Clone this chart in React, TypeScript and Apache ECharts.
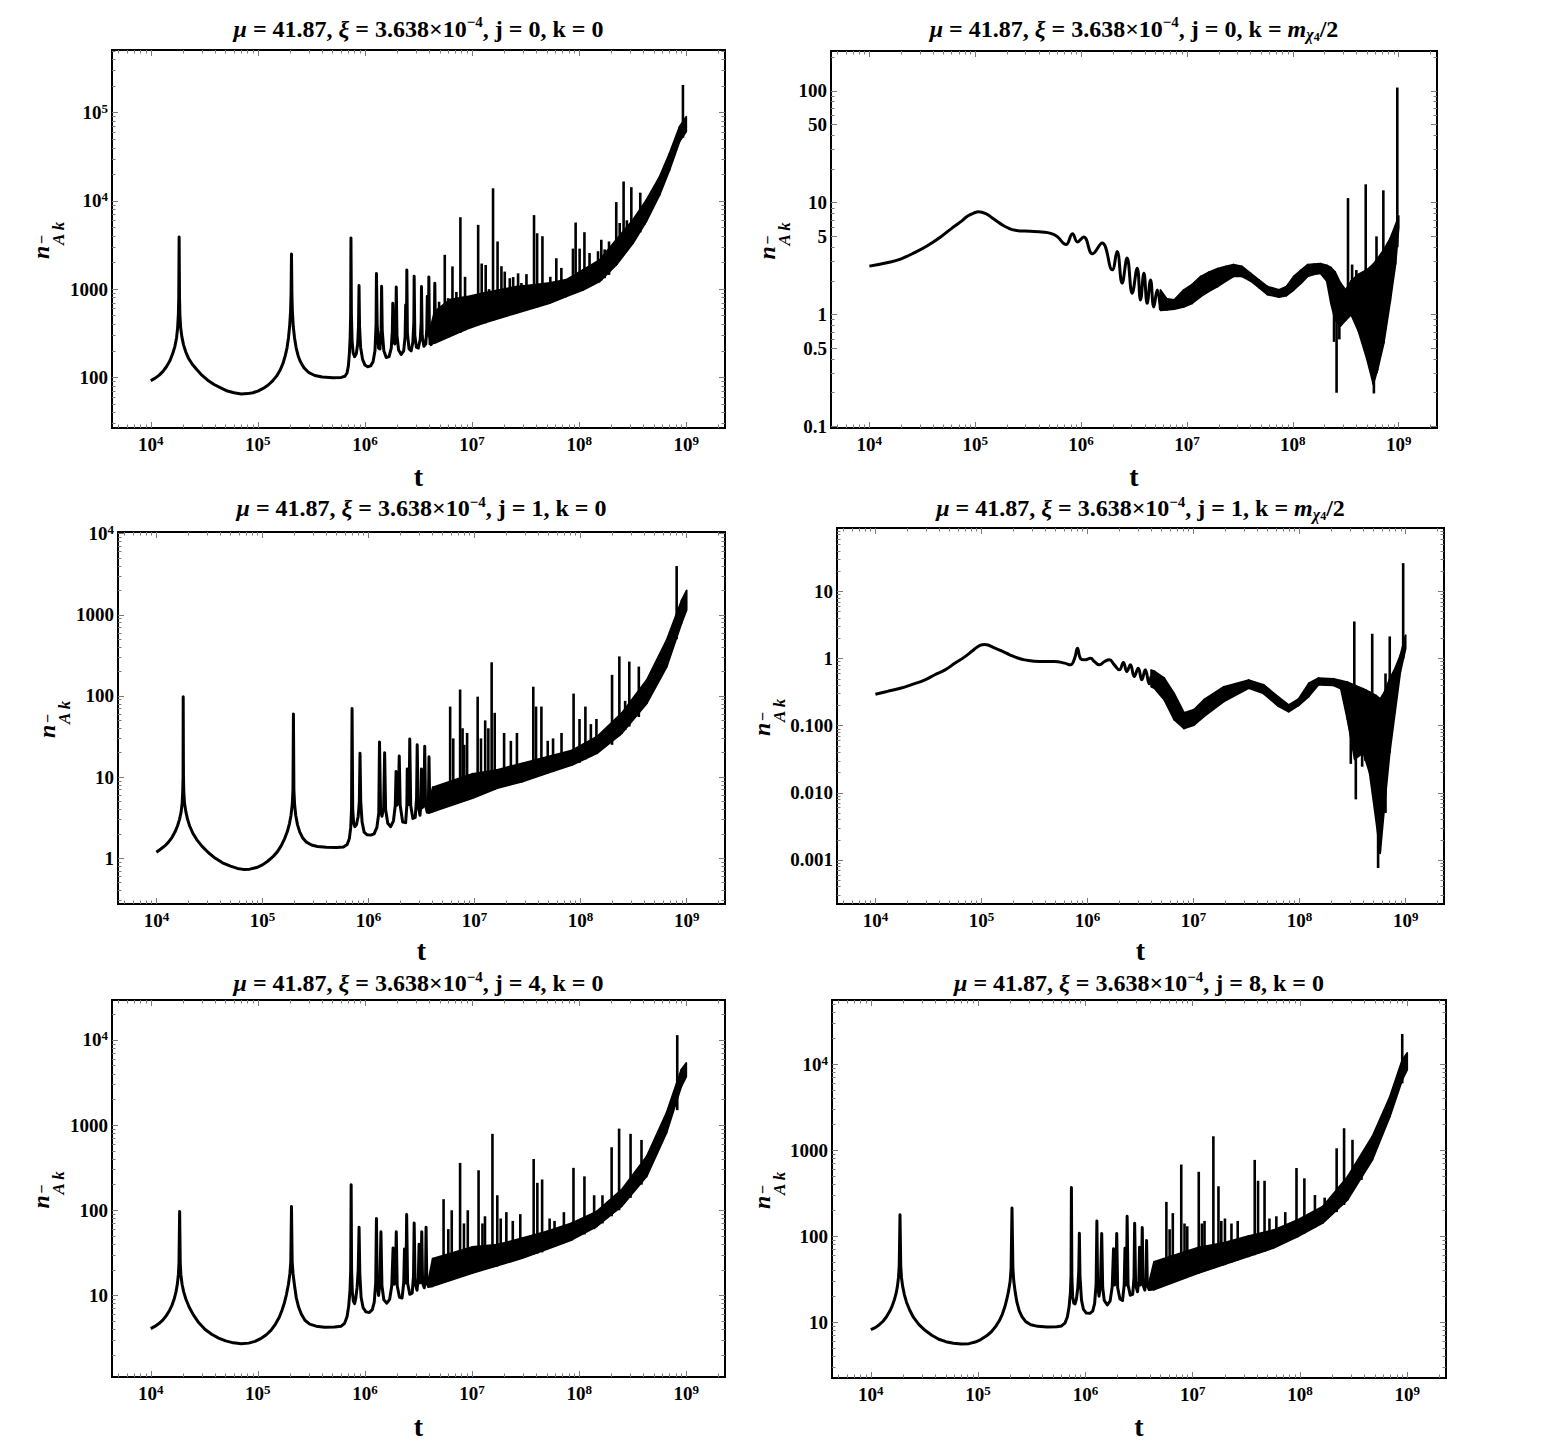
import React, { useEffect, useRef } from "react";
import * as echarts from "echarts";

const FONT = "Liberation Serif";

// ---------- shared x axis ----------
const xTicks = [1e4, 1e5, 1e6, 1e7, 1e8, 1e9];
const xTickLabels = ["10^4", "10^5", "10^6", "10^7", "10^8", "10^9"];
const xRange = [4345, 2.3e9];

const titles = [
  "{i|μ} = 41.87, {i|ξ} = 3.638×10{p|−4}, j = 0, k = 0",
  "{i|μ} = 41.87, {i|ξ} = 3.638×10{p|−4}, j = 0, k = {i|m}{c|χ}{d|4}/2",
  "{i|μ} = 41.87, {i|ξ} = 3.638×10{p|−4}, j = 1, k = 0",
  "{i|μ} = 41.87, {i|ξ} = 3.638×10{p|−4}, j = 1, k = {i|m}{c|χ}{d|4}/2",
  "{i|μ} = 41.87, {i|ξ} = 3.638×10{p|−4}, j = 4, k = 0",
  "{i|μ} = 41.87, {i|ξ} = 3.638×10{p|−4}, j = 8, k = 0",
];

// ---------- panel 1 : j = 0, k = 0 ----------
const p1YRange = [26.7, 5.13e5];
const p1YTicks = [100, 1000, 1e4, 1e5];
const p1YTickLabels = ["100", "1000", "10^4", "10^5"];
const p1Line = [
  [1.0e4, 92], [1.1e4, 98], [1.2e4, 106], [1.3e4, 117], [1.4e4, 132], [1.5e4, 152], [1.6e4, 185], [1.68e4, 225],
  [1.74e4, 280], [1.78e4, 360], [1.81e4, 520], [1.825e4, 800], [1.84e4, 3900], [1.855e4, 800], [1.87e4, 520],
  [1.9e4, 370], [1.95e4, 290], [2.02e4, 235], [2.12e4, 195], [2.25e4, 165], [2.45e4, 140], [2.7e4, 122], [3.0e4, 106],
  [3.4e4, 93], [3.9e4, 83], [4.5e4, 76], [5.2e4, 70], [6.0e4, 67], [7.0e4, 65], [8.0e4, 65.5], [9.0e4, 67], [1.0e5, 70],
  [1.12e5, 75], [1.25e5, 82], [1.38e5, 92], [1.5e5, 104], [1.62e5, 122], [1.72e5, 145], [1.8e5, 175], [1.87e5, 215],
  [1.93e5, 280], [1.98e5, 380], [2.02e5, 560], [2.04e5, 850], [2.06e5, 2500], [2.08e5, 850], [2.1e5, 560], [2.14e5, 380],
  [2.2e5, 280], [2.28e5, 215], [2.38e5, 175], [2.5e5, 150], [2.7e5, 128], [3.0e5, 113], [3.4e5, 105], [4.0e5, 101],
  [5.0e5, 99], [6.0e5, 100], [6.5e5, 103], [6.8e5, 112], [7.0e5, 135], [7.15e5, 185], [7.28e5, 290], [7.35e5, 520],
  [7.4e5, 3800], [7.47e5, 520], [7.58e5, 260], [7.75e5, 190], [8.0e5, 172], [8.3e5, 185], [8.55e5, 240], [8.7e5, 380],
  [8.8e5, 1100], [8.9e5, 380], [9.1e5, 220], [9.5e5, 160], [1.0e6, 138], [1.06e6, 132], [1.13e6, 135], [1.19e6, 150],
  [1.24e6, 200], [1.27e6, 400], [1.28e6, 1500], [1.3e6, 400], [1.34e6, 215], [1.38e6, 210], [1.415e6, 350], [1.43e6, 1080],
  [1.45e6, 340], [1.5e6, 200], [1.58e6, 168], [1.68e6, 172], [1.76e6, 215], [1.8e6, 330], [1.82e6, 690], [1.85e6, 260],
  [1.9e6, 240], [1.94e6, 360], [1.96e6, 1060], [1.99e6, 300], [2.06e6, 205], [2.18e6, 182], [2.3e6, 200], [2.37e6, 290],
  [2.4e6, 660], [2.42e6, 300], [2.445e6, 420], [2.46e6, 1650], [2.49e6, 320], [2.58e6, 210], [2.7e6, 200], [2.8e6, 250],
  [2.86e6, 420], [2.88e6, 1400], [2.92e6, 300], [3.02e6, 220], [3.15e6, 215], [3.28e6, 270], [3.35e6, 420], [3.37e6, 1070],
  [3.42e6, 300], [3.55e6, 225], [3.7e6, 240], [3.78e6, 360], [3.82e6, 830], [3.86e6, 300], [3.92e6, 420], [3.95e6, 1370],
  [4.0e6, 300], [4.15e6, 235], [4.35e6, 280], [4.45e6, 500], [4.49e6, 1170], [4.55e6, 300],
];
const p1Band = [
  [4.0e6, 238, 330], [4.47e6, 245, 560], [6.2e6, 291, 760], [8.87e6, 352, 820], [1.27e7, 412, 900], [1.81e7, 470, 980],
  [2.59e7, 535, 1070], [3.71e7, 610, 1120], [5.31e7, 695, 1175], [7.59e7, 826, 1280], [1.09e8, 982, 1660],
  [1.55e8, 1220, 2140], [2.22e8, 1880, 3630], [3.18e8, 3310, 6100], [4.23e8, 5830, 10200], [5.64e8, 11700, 18800],
  [6.98e8, 22400, 34700], [8.65e8, 47000, 69200], [1.0e9, 61000, 90000],
];
const p1Spikes = [
  [4.92e6, 260, 720], [5.56e6, 280, 2450], [5.97e6, 290, 790], [6.56e6, 300, 1810], [7.14e6, 310, 930], [7.78e6, 320, 6530],
  [8.6e6, 340, 1380], [1.14e7, 390, 5350], [1.23e7, 400, 1950], [1.34e7, 410, 1880], [1.44e7, 430, 1000], [1.57e7, 440, 13900],
  [1.73e7, 460, 3470], [1.88e7, 480, 1820], [2.02e7, 490, 1580], [2.25e7, 510, 1330], [2.42e7, 520, 1370], [2.69e7, 540, 1510],
  [2.89e7, 560, 1175], [3.22e7, 580, 1480], [3.79e7, 610, 6900], [4.05e7, 620, 4300], [4.54e7, 650, 3980], [4.94e7, 670, 1120],
  [5.38e7, 700, 1380], [6.12e7, 740, 2240], [6.82e7, 780, 1740], [8.15e7, 860, 1320], [8.75e7, 900, 2880], [9.27e7, 920, 5690],
  [1.01e8, 960, 2880], [1.12e8, 1010, 4420], [1.25e8, 1080, 2570], [1.5e8, 1200, 2690], [1.61e8, 1260, 3630],
  [1.73e8, 1330, 2820], [1.9e8, 1450, 3470], [2.22e8, 1880, 9700], [2.39e8, 2200, 5620], [2.6e8, 2600, 16600], [2.79e8, 2900, 6030],
  [3.07e8, 3300, 14300], [3.37e8, 3700, 5130], [3.72e8, 4400, 12400], [4.08e8, 5400, 7940], [9.31e8, 52000, 206000],
];

// ---------- panel 2 : j = 0, k = m/2 ----------
const p2YRange = [0.0968, 227];
const p2YTicks = [0.1, 0.5, 1, 5, 10, 50, 100];
const p2YTickLabels = ["0.1", "0.5", "1", "5", "10", "50", "100"];
const p2Line = [
  [1e4, 2.71], [1.58e4, 2.95], [2.0e4, 3.15], [2.74e4, 3.62], [3.5e4, 4.1], [4.71e4, 4.94], [6.0e4, 5.9], [7.26e4, 6.73],
  [8.5e4, 7.6], [1e5, 8.17], [1.07e5, 8.3], [1.26e5, 8.0], [1.45e5, 7.3], [1.73e5, 6.5], [2.0e5, 6.0], [2.39e5, 5.66],
  [3.31e5, 5.55], [4.0e5, 5.5], [4.83e5, 5.4], [5.5e5, 5.2], [6.0e5, 4.94], [7.21e5, 4.22], [8.3e5, 5.29], [9.25e5, 4.46],
  [1.06e6, 4.94], [1.28e6, 3.5], [1.58e6, 4.37], [1.97e6, 2.51], [2.19e6, 3.67], [2.44e6, 1.91], [2.72e6, 3.2],
  [3.04e6, 1.55], [3.39e6, 2.6], [3.64e6, 1.35], [3.92e6, 2.34], [4.21e6, 1.26], [4.53e6, 2.04], [4.86e6, 1.17],
  [5.24e6, 1.66], [5.62e6, 1.1],
];
const p2Band = [
  [5.62e6, 1.09, 1.66], [6.46e6, 1.1, 1.38], [7.59e6, 1.12, 1.35], [9.33e6, 1.17, 1.66], [1.12e7, 1.26, 1.86],
  [1.35e7, 1.45, 2.19], [1.62e7, 1.62, 2.4], [1.95e7, 1.78, 2.57], [2.34e7, 2.0, 2.69], [2.75e7, 2.19, 2.79],
  [3.31e7, 2.19, 2.69], [3.98e7, 2.0, 2.34], [4.79e7, 1.74, 2.04], [5.75e7, 1.51, 1.78], [7.41e7, 1.43, 1.66],
  [8.71e7, 1.48, 1.78], [1.02e8, 1.66, 2.19], [1.2e8, 1.91, 2.51], [1.38e8, 2.19, 2.79], [1.58e8, 2.29, 2.82],
  [1.82e8, 2.34, 2.85], [2.09e8, 2.0, 2.75], [2.29e8, 1.26, 2.63], [2.51e8, 0.89, 2.4], [2.82e8, 0.79, 1.91],
  [3.16e8, 0.89, 1.66], [3.55e8, 1.0, 2.0], [4.17e8, 0.71, 2.29], [5.01e8, 0.4, 2.51], [5.75e8, 0.24, 2.82],
  [6.31e8, 0.32, 3.16], [7.24e8, 0.56, 3.8], [8.32e8, 1.32, 4.79], [9.33e8, 2.82, 6.31], [1e9, 6.0, 7.6],
];
const p2Spikes = [
  [2.45e8, 0.57, 2.0], [2.59e8, 0.2, 1.5], [2.75e8, 0.6, 1.8], [3.32e8, 1.0, 11.0], [3.63e8, 1.0, 2.8], [3.98e8, 0.9, 2.5],
  [4.88e8, 0.6, 14.6], [5.83e8, 0.197, 1.5], [6.17e8, 0.3, 5.0], [6.61e8, 0.4, 3.0], [7.16e8, 0.7, 12.9], [9.7e8, 4.0, 107],
];

// ---------- panel 3 : j = 1, k = 0 ----------
const p3YRange = [0.2735, 10470];
const p3YTicks = [1, 10, 100, 1000, 1e4];
const p3YTickLabels = ["1", "10", "100", "1000", "10^4"];
const p3Line = [
  [1e4, 1.19], [1.1e4, 1.3], [1.2e4, 1.42], [1.3e4, 1.58], [1.4e4, 1.8], [1.5e4, 2.12], [1.58e4, 2.5], [1.65e4, 3.0],
  [1.71e4, 3.7], [1.75e4, 4.8], [1.77e4, 6.5], [1.785e4, 10], [1.79e4, 98], [1.8e4, 10], [1.815e4, 6.5], [1.84e4, 4.8],
  [1.9e4, 3.7], [1.97e4, 3.0], [2.06e4, 2.5], [2.2e4, 2.05], [2.4e4, 1.7], [2.7e4, 1.4], [3.1e4, 1.17], [3.6e4, 1.0],
  [4.2e4, 0.88], [5.0e4, 0.8], [5.8e4, 0.75], [6.6e4, 0.73], [7.6e4, 0.735], [8.8e4, 0.77], [1.0e5, 0.83], [1.12e5, 0.92],
  [1.25e5, 1.04], [1.38e5, 1.2], [1.5e5, 1.42], [1.62e5, 1.75], [1.72e5, 2.15], [1.8e5, 2.7], [1.86e5, 3.4], [1.91e5, 4.6],
  [1.94e5, 7.0], [1.96e5, 60], [1.98e5, 7.0], [2.01e5, 4.6], [2.06e5, 3.4], [2.14e5, 2.6], [2.25e5, 2.1], [2.4e5, 1.78],
  [2.6e5, 1.58], [2.9e5, 1.46], [3.3e5, 1.4], [4.0e5, 1.37], [5.0e5, 1.36], [5.8e5, 1.38], [6.3e5, 1.48], [6.6e5, 1.75],
  [6.8e5, 2.4], [6.92e5, 4.0], [7.0e5, 70], [7.1e5, 4.0], [7.25e5, 2.7], [7.45e5, 2.45], [7.7e5, 2.6], [8.0e5, 3.3],
  [8.2e5, 5.0], [8.32e5, 19.7], [8.45e5, 5.0], [8.7e5, 2.8], [9.1e5, 2.1], [9.7e5, 1.95], [1.05e6, 1.93], [1.13e6, 2.0],
  [1.2e6, 2.4], [1.25e6, 3.6], [1.27e6, 27], [1.3e6, 4.0], [1.34e6, 3.3], [1.39e6, 4.2], [1.42e6, 20], [1.45e6, 4.0],
  [1.52e6, 2.7], [1.62e6, 2.45], [1.72e6, 2.9], [1.79e6, 4.5], [1.82e6, 11.7], [1.85e6, 4.5], [1.91e6, 5.0], [1.95e6, 18.2],
  [1.99e6, 4.5], [2.1e6, 2.8], [2.24e6, 2.75], [2.3e6, 4.5], [2.32e6, 12.6], [2.37e6, 4.6], [2.42e6, 6.0], [2.45e6, 29.5],
  [2.5e6, 4.5], [2.62e6, 3.1], [2.76e6, 3.2], [2.84e6, 5.5], [2.88e6, 25], [2.94e6, 4.5], [3.06e6, 3.4], [3.13e6, 5.0],
  [3.16e6, 12.6], [3.21e6, 4.2], [3.33e6, 4.5], [3.39e6, 24], [3.45e6, 4.5], [3.58e6, 3.7], [3.68e6, 5.5], [3.72e6, 17.8],
  [3.78e6, 4.5], [3.9e6, 3.8], [4.04e6, 3.9],
];
const p3Band = [
  [3.7e6, 3.6, 4.6], [4.04e6, 3.76, 7.5], [9.57e6, 5.5, 11], [1.64e7, 7.3, 12.3], [2.82e7, 8.8, 14.8], [4.84e7, 11.2, 17.8],
  [8.32e7, 14.1, 21.4], [1.43e8, 19.7, 31.6], [2.45e8, 34.7, 61.7], [4.21e8, 81, 158], [6.49e8, 229, 490],
  [8.97e8, 794, 1510], [1e9, 1150, 2000],
];
const p3Spikes = [
  [5.89e6, 4.5, 74], [6.3e6, 4.6, 30], [7.31e6, 5.0, 120], [7.71e6, 5.0, 40], [8.0e6, 5.1, 25], [8.51e6, 5.2, 35],
  [1.07e7, 5.8, 98], [1.15e7, 6.0, 30], [1.26e7, 6.4, 50], [1.35e7, 6.6, 40], [1.45e7, 6.8, 260], [1.55e7, 7.0, 62],
  [1.9e7, 7.6, 35], [2.2e7, 8.0, 28], [2.51e7, 8.5, 35], [3.58e7, 9.8, 130], [3.8e7, 10, 74], [4.27e7, 10.5, 74],
  [4.9e7, 11.2, 28], [5.5e7, 11.8, 30], [6.61e7, 12.8, 35], [8.59e7, 14.3, 107], [9.77e7, 15, 52], [1.11e8, 16.5, 74],
  [1.25e8, 18, 45], [1.41e8, 19.5, 52], [1.98e8, 25, 182], [2.32e8, 32, 307], [2.63e8, 38, 87], [2.88e8, 42, 265],
  [3.54e8, 55, 230], [8.05e8, 500, 3980],
];

// ---------- panel 4 : j = 1, k = m/2 ----------
const p4YRange = [2.21e-4, 88.1];
const p4YTicks = [0.001, 0.01, 0.1, 1, 10];
const p4YTickLabels = ["0.001", "0.010", "0.100", "1", "10"];
const p4Line = [
  [1e4, 0.295], [1.3e4, 0.325], [1.72e4, 0.362], [2.2e4, 0.41], [2.94e4, 0.482], [3.6e4, 0.57], [4.54e4, 0.679],
  [5.6e4, 0.85], [7.0e4, 1.07], [8.3e4, 1.32], [9.68e4, 1.57], [1.08e5, 1.62], [1.34e5, 1.43], [1.6e5, 1.27],
  [1.85e5, 1.14], [2.2e5, 1.02], [2.56e5, 0.957], [3.54e5, 0.905], [4.9e5, 0.905], [6.08e5, 0.855], [6.92e5, 0.807],
  [7.55e5, 1.0], [8.05e5, 1.43], [8.59e5, 1.0], [9.37e5, 0.957], [1.07e6, 1.01], [1.16e6, 0.905], [1.3e6, 0.807],
  [1.45e6, 0.905], [1.61e6, 0.957], [1.79e6, 0.807], [2.0e6, 0.679], [2.18e6, 0.875], [2.35e6, 0.641], [2.54e6, 0.807],
  [2.76e6, 0.541], [3.01e6, 0.719], [3.25e6, 0.482], [3.51e6, 0.679], [3.82e6, 0.421], [3.98e6, 0.55],
];
const p4Band = [
  [3.98e6, 0.38, 0.676], [4.27e6, 0.363, 0.646], [5.28e6, 0.245, 0.513], [6.56e6, 0.123, 0.302], [8.15e6, 0.091, 0.155],
  [1.01e7, 0.102, 0.174], [1.26e7, 0.138, 0.245], [1.93e7, 0.229, 0.38], [3.31e7, 0.363, 0.479], [4.57e7, 0.302, 0.407],
  [6.31e7, 0.195, 0.269], [7.89e7, 0.162, 0.204], [9.77e7, 0.2, 0.25], [1.22e8, 0.272, 0.427], [1.51e8, 0.407, 0.513],
  [2.09e8, 0.398, 0.5], [2.45e8, 0.355, 0.468], [2.82e8, 0.126, 0.447], [3.31e8, 0.0316, 0.398], [3.98e8, 0.0398, 0.355],
  [4.57e8, 0.02, 0.316], [5.25e8, 0.004, 0.282], [5.75e8, 0.00126, 0.251], [6.31e8, 0.0063, 0.316], [7.08e8, 0.0398, 0.5],
  [7.94e8, 0.158, 0.708], [8.91e8, 0.63, 1.12], [1e9, 1.41, 2.24],
];
const p4Spikes = [
  [3.04e8, 0.027, 0.4], [3.28e8, 0.05, 3.57], [3.39e8, 0.008, 0.3], [3.89e8, 0.0245, 0.35], [4.17e8, 0.03, 0.35],
  [4.84e8, 0.03, 2.34], [5.5e8, 0.00076, 0.2], [6.46e8, 0.005, 0.6], [7.08e8, 0.04, 2.14], [9.48e8, 1.0, 26.4],
];

// ---------- panel 5 : j = 4, k = 0 ----------
const p5YRange = [1.1, 29500];
const p5YTicks = [10, 100, 1000, 1e4];
const p5YTickLabels = ["10", "100", "1000", "10^4"];
const p5Line = [
  [1e4, 4.07], [1.1e4, 4.35], [1.2e4, 4.7], [1.3e4, 5.15], [1.4e4, 5.8], [1.5e4, 6.7], [1.58e4, 7.7], [1.66e4, 9.2],
  [1.72e4, 11], [1.77e4, 13.5], [1.81e4, 17.5], [1.835e4, 24], [1.86e4, 97], [1.885e4, 24], [1.91e4, 17.5], [1.96e4, 13.5],
  [2.03e4, 11], [2.13e4, 9.0], [2.28e4, 7.3], [2.5e4, 5.9], [2.8e4, 4.8], [3.2e4, 4.0], [3.7e4, 3.5], [4.3e4, 3.15],
  [5.0e4, 2.92], [5.9e4, 2.77], [7.0e4, 2.71], [8.2e4, 2.75], [9.4e4, 2.88], [1.06e5, 3.1], [1.2e5, 3.45], [1.33e5, 3.9],
  [1.46e5, 4.6], [1.58e5, 5.5], [1.68e5, 6.7], [1.77e5, 8.2], [1.85e5, 10.3], [1.93e5, 13.5], [1.99e5, 18], [2.03e5, 25],
  [2.06e5, 111], [2.09e5, 25], [2.13e5, 18], [2.2e5, 13], [2.28e5, 9.5], [2.4e5, 7.3], [2.55e5, 6.0], [2.75e5, 5.1],
  [3.05e5, 4.6], [3.5e5, 4.35], [4.2e5, 4.22], [5.2e5, 4.25], [6.0e5, 4.35], [6.45e5, 4.7], [6.8e5, 5.6], [7.05e5, 7.5],
  [7.25e5, 11.5], [7.36e5, 20], [7.43e5, 200], [7.5e5, 20], [7.62e5, 11], [7.8e5, 8.5], [8.0e5, 8.0], [8.2e5, 9.2],
  [8.45e5, 12.5], [8.65e5, 20], [8.81e5, 63], [8.95e5, 18], [9.2e5, 9.5], [9.6e5, 7.2], [1.02e6, 6.4], [1.1e6, 6.3],
  [1.17e6, 6.8], [1.22e6, 8.3], [1.26e6, 14], [1.28e6, 80], [1.3e6, 14], [1.34e6, 10], [1.38e6, 14], [1.41e6, 56],
  [1.44e6, 13], [1.5e6, 8.9], [1.6e6, 8.1], [1.7e6, 9.0], [1.78e6, 13], [1.83e6, 36], [1.87e6, 13.5], [1.92e6, 15],
  [1.96e6, 56], [2.0e6, 13], [2.1e6, 9.5], [2.22e6, 9.3], [2.3e6, 14], [2.34e6, 35], [2.39e6, 14], [2.42e6, 18],
  [2.45e6, 89], [2.5e6, 14], [2.62e6, 10.3], [2.76e6, 10.6], [2.84e6, 17], [2.88e6, 71], [2.94e6, 14], [3.06e6, 11.5],
  [3.15e6, 16], [3.2e6, 40], [3.25e6, 14], [3.33e6, 15], [3.39e6, 56], [3.45e6, 14], [3.58e6, 12.3], [3.68e6, 17],
  [3.72e6, 63], [3.78e6, 14], [3.92e6, 12.8], [4.29e6, 13.5],
];
const p5Band = [
  [3.9e6, 12.5, 15], [4.29e6, 12.8, 27], [1e7, 18.3, 37], [1.72e7, 22.3, 39.4], [2.94e7, 27.4, 47.1], [5.01e7, 35, 56.4],
  [8.55e7, 45, 70.6], [1.46e8, 64.6, 96.8], [2.49e8, 111, 174], [4.26e8, 249, 427], [6.52e8, 803, 1380],
  [8.97e8, 2820, 4470], [1e9, 3720, 5370],
];
const p5Spikes = [
  [5.42e6, 14, 135], [6.0e6, 15, 60], [6.46e6, 16, 100], [7.73e6, 17, 360], [8.4e6, 17.5, 70], [9.12e6, 18, 100],
  [1.15e7, 20, 295], [1.25e7, 20.5, 70], [1.32e7, 21, 85], [1.55e7, 22, 790], [1.72e7, 22, 150], [1.85e7, 23, 80],
  [2.09e7, 24, 95], [2.4e7, 25.5, 75], [2.82e7, 27, 90], [3.76e7, 30, 400], [4.07e7, 31, 210], [4.51e7, 32, 230],
  [5.3e7, 36, 80], [5.89e7, 37, 75], [7.2e7, 41, 95], [8.85e7, 46, 315], [1.12e8, 52, 250], [1.38e8, 60, 150],
  [1.65e8, 70, 150], [2.01e8, 85, 550], [2.36e8, 100, 910], [3.02e8, 140, 790], [3.82e8, 200, 670], [8.24e8, 1500, 11400],
];

// ---------- panel 6 : j = 8, k = 0 ----------
const p6YRange = [2.23, 55900];
const p6YTicks = [10, 100, 1000, 1e4];
const p6YTickLabels = ["10", "100", "1000", "10^4"];
const p6Line = [
  [1e4, 8.15], [1.1e4, 8.6], [1.2e4, 9.3], [1.3e4, 10.2], [1.4e4, 11.5], [1.5e4, 13.3], [1.58e4, 15.3], [1.66e4, 18.3],
  [1.72e4, 21.5], [1.77e4, 26], [1.81e4, 33], [1.84e4, 45], [1.87e4, 177], [1.9e4, 45], [1.93e4, 33], [1.98e4, 26],
  [2.05e4, 21], [2.15e4, 17], [2.3e4, 13.8], [2.5e4, 11.3], [2.8e4, 9.4], [3.2e4, 8.0], [3.7e4, 7.0], [4.3e4, 6.3],
  [5.0e4, 5.9], [5.9e4, 5.65], [7.0e4, 5.55], [8.2e4, 5.6], [9.4e4, 5.85], [1.06e5, 6.25], [1.2e5, 6.9], [1.33e5, 7.7],
  [1.46e5, 8.9], [1.58e5, 10.4], [1.68e5, 12.3], [1.77e5, 14.8], [1.85e5, 18.3], [1.93e5, 23.5], [1.99e5, 30], [2.03e5, 42],
  [2.07e5, 212], [2.11e5, 42], [2.15e5, 30], [2.22e5, 22], [2.3e5, 17], [2.42e5, 13.5], [2.57e5, 11.5], [2.78e5, 10.1],
  [3.1e5, 9.3], [3.6e5, 8.9], [4.4e5, 8.75], [5.4e5, 8.8], [6.0e5, 9.0], [6.45e5, 9.7], [6.8e5, 11.5], [7.05e5, 15],
  [7.25e5, 22], [7.35e5, 35], [7.41e5, 368], [7.48e5, 35], [7.6e5, 20], [7.8e5, 16.5], [8.0e5, 16.2], [8.25e5, 18.5],
  [8.5e5, 25], [8.68e5, 40], [8.79e5, 108], [8.9e5, 35], [9.2e5, 18], [9.6e5, 14], [1.02e6, 12.7], [1.1e6, 12.6],
  [1.17e6, 13.4], [1.22e6, 16.5], [1.26e6, 28], [1.28e6, 150], [1.3e6, 28], [1.34e6, 20], [1.38e6, 26], [1.42e6, 107],
  [1.45e6, 25], [1.5e6, 17.8], [1.6e6, 15.8], [1.7e6, 17.5], [1.78e6, 26], [1.83e6, 71], [1.87e6, 27], [1.92e6, 30],
  [1.96e6, 107], [2.0e6, 25], [2.1e6, 18.5], [2.22e6, 17.8], [2.3e6, 27], [2.34e6, 72], [2.39e6, 27], [2.42e6, 35],
  [2.45e6, 170], [2.5e6, 27], [2.62e6, 20.5], [2.76e6, 21], [2.84e6, 33], [2.88e6, 141], [2.94e6, 27], [3.06e6, 22.5],
  [3.15e6, 30], [3.2e6, 74], [3.25e6, 27], [3.33e6, 29], [3.39e6, 126], [3.45e6, 27], [3.58e6, 23.5], [3.68e6, 32],
  [3.72e6, 89], [3.78e6, 27], [3.92e6, 24], [4.36e6, 25],
];
const p6Band = [
  [3.9e6, 23.5, 28], [4.36e6, 23.8, 50], [1.14e7, 37.2, 74], [1.94e7, 46.5, 83.2], [3.3e7, 58, 100], [5.62e7, 72.4, 117],
  [9.57e7, 99, 155], [1.63e8, 142, 221], [2.78e8, 264, 490], [4.74e8, 773, 1450], [6.89e8, 2450, 4170],
  [8.99e8, 6580, 11200], [1e9, 8590, 13500],
];
const p6Spikes = [
  [5.69e6, 27, 250], [6.1e6, 28, 120], [6.53e6, 30, 185], [7.83e6, 33, 680], [8.4e6, 34, 140], [8.91e6, 35, 130],
  [1.14e7, 37, 560], [1.22e7, 38, 140], [1.29e7, 39, 150], [1.56e7, 42, 1450], [1.74e7, 44, 380], [1.85e7, 45, 150],
  [2.0e7, 46, 160], [2.3e7, 49, 140], [2.63e7, 52, 150], [3.79e7, 60, 770], [4.07e7, 62, 440], [4.68e7, 66, 440],
  [5.2e7, 70, 160], [6.03e7, 75, 170], [7.3e7, 85, 190], [9.29e7, 97, 620], [1.1e8, 107, 470], [1.38e8, 125, 300],
  [1.7e8, 150, 280], [2.2e8, 190, 1050], [2.58e8, 230, 1800], [3.09e8, 330, 1320], [3.75e8, 450, 880], [8.99e8, 6000, 22500],
];

// ---------- layout (pixels) ----------
const layout = [
  { left: 112, top: 50, width: 613, height: 378, titleY: 28.5, tY: 476, labX: 49 },
  { left: 831, top: 51, width: 606, height: 377, titleY: 28.5, tY: 476, labX: 775 },
  { left: 118, top: 532, width: 607, height: 372, titleY: 508, tY: 950, labX: 55 },
  { left: 837, top: 528, width: 607, height: 376, titleY: 508, tY: 950, labX: 770 },
  { left: 112, top: 1000, width: 613, height: 377, titleY: 983, tY: 1426, labX: 49 },
  { left: 832, top: 1000, width: 614, height: 378, titleY: 983, tY: 1426, labX: 770 },
];

const panels = [
  { line: p1Line, band: p1Band, spikes: p1Spikes, yRange: p1YRange, yTicks: p1YTicks, yLabels: p1YTickLabels, smooth: false },
  { line: p2Line, band: p2Band, spikes: p2Spikes, yRange: p2YRange, yTicks: p2YTicks, yLabels: p2YTickLabels, smooth: true },
  { line: p3Line, band: p3Band, spikes: p3Spikes, yRange: p3YRange, yTicks: p3YTicks, yLabels: p3YTickLabels, smooth: false },
  { line: p4Line, band: p4Band, spikes: p4Spikes, yRange: p4YRange, yTicks: p4YTicks, yLabels: p4YTickLabels, smooth: true },
  { line: p5Line, band: p5Band, spikes: p5Spikes, yRange: p5YRange, yTicks: p5YTicks, yLabels: p5YTickLabels, smooth: false },
  { line: p6Line, band: p6Band, spikes: p6Spikes, yRange: p6YRange, yTicks: p6YTicks, yLabels: p6YTickLabels, smooth: false },
];

const tickRich = {
  b: { fontSize: 19, fontWeight: "bold", fontFamily: FONT, color: "#000", lineHeight: 21 },
  s: { fontSize: 13, fontWeight: "bold", fontFamily: FONT, color: "#000", lineHeight: 10, verticalAlign: "top" },
};

const toRich = (s: string) => {
  const k = s.indexOf("^");
  return k < 0 ? `{b|${s}}` : `{b|${s.slice(0, k)}}{s|${s.slice(k + 1)}}`;
};
const makeFormatter = (vals: number[], labs: string[]) => (v: number) => {
  for (let i = 0; i < vals.length; i++) {
    if (Math.abs(Math.log10(vals[i]) - Math.log10(v)) < 1e-6) return toRich(labs[i]);
  }
  return "";
};

const tickLine = { color: "#7a7a7a", width: 1 };

function mkAxis(kind: "x" | "y", gridIndex: number, position: string, range: number[], ticks: number[], labels: string[], showLabels: boolean) {
  return {
    type: "log",
    logBase: 10,
    gridIndex,
    position,
    min: range[0],
    max: range[1],
    axisLine: { show: false },
    axisTick: { show: true, inside: true, length: 6, lineStyle: tickLine, customValues: ticks },
    minorTick: { show: true, splitNumber: 9, length: 3.5, lineStyle: tickLine },
    splitLine: { show: false },
    minorSplitLine: { show: false },
    axisPointer: { show: false },
    axisLabel: {
      show: showLabels,
      customValues: ticks,
      formatter: makeFormatter(ticks, labels),
      margin: kind === "x" ? 6 : 4,
      rich: tickRich,
    },
  };
}

const titleRich = {
  i: { fontSize: 24, fontFamily: FONT, fontWeight: "bold", fontStyle: "italic", fill: "#000" },
  p: { fontSize: 15, fontFamily: FONT, fontWeight: "bold", fill: "#000", verticalAlign: "top", lineHeight: 12 },
  c: { fontSize: 16, fontFamily: FONT, fontWeight: "bold", fontStyle: "italic", fill: "#000", verticalAlign: "bottom", lineHeight: 14 },
  d: { fontSize: 12, fontFamily: FONT, fontWeight: "bold", fill: "#000", verticalAlign: "bottom", lineHeight: 8 },
};

function buildOption() {
  const grid: any[] = [];
  const xAxis: any[] = [];
  const yAxis: any[] = [];
  const series: any[] = [];
  const graphic: any[] = [];

  panels.forEach((p, i) => {
    const L = layout[i];
    grid.push({
      left: L.left, top: L.top, width: L.width, height: L.height,
      show: true, borderColor: "#000", borderWidth: 2, backgroundColor: "transparent",
      containLabel: false, outerBoundsMode: "none",
    });
    xAxis.push(mkAxis("x", i, "bottom", xRange, xTicks, xTickLabels, true));
    xAxis.push(mkAxis("x", i, "top", xRange, xTicks, xTickLabels, false));
    yAxis.push(mkAxis("y", i, "left", p.yRange, p.yTicks, p.yLabels, true));
    yAxis.push(mkAxis("y", i, "right", p.yRange, p.yTicks, p.yLabels, false));

    const band = p.band;
    series.push({
      type: "custom",
      xAxisIndex: 2 * i,
      yAxisIndex: 2 * i,
      silent: true,
      z: 2,
      dimensions: ["t", "lo", "hi"],
      encode: { x: 0, y: 1 },
      data: band,
      renderItem: (params: any, api: any) => {
        const k = params.dataIndex;
        if (k >= band.length - 1) return null;
        const a = band[k];
        const b = band[k + 1];
        const pts = [
          api.coord([a[0], a[1]]),
          api.coord([b[0], b[1]]),
          api.coord([b[0], b[2]]),
          api.coord([a[0], a[2]]),
        ];
        return { type: "polygon", shape: { points: pts }, style: { fill: "#000", stroke: "#000", lineWidth: 1.8, lineJoin: "round" } };
      },
    });
    series.push({
      type: "custom",
      xAxisIndex: 2 * i,
      yAxisIndex: 2 * i,
      silent: true,
      z: 3,
      dimensions: ["t", "lo", "hi"],
      encode: { x: 0, y: 1 },
      data: p.spikes,
      renderItem: (params: any, api: any) => {
        const a = api.coord([api.value(0), api.value(1)]);
        const b = api.coord([api.value(0), api.value(2)]);
        return { type: "line", shape: { x1: a[0], y1: a[1], x2: b[0], y2: b[1] }, style: { stroke: "#000", lineWidth: 2.6 } };
      },
    });
    series.push({
      type: "line",
      xAxisIndex: 2 * i,
      yAxisIndex: 2 * i,
      data: p.line,
      showSymbol: false,
      symbol: "none",
      silent: true,
      z: 4,
      smooth: p.smooth ? 0.45 : false,
      lineStyle: { color: "#000", width: 3, join: "round" },
    });

    const cx = L.left + L.width / 2;
    const cy = L.top + L.height / 2;
    graphic.push({
      type: "text",
      x: cx,
      y: L.titleY,
      silent: true,
      style: {
        text: titles[i],
        rich: titleRich,
        fontSize: 24,
        fontFamily: FONT,
        fontWeight: "bold",
        fill: "#000",
        lineHeight: 28,
        align: "center",
        verticalAlign: "middle",
      },
    });
    graphic.push({
      type: "text",
      x: cx,
      y: L.tY,
      silent: true,
      style: { text: "t", fontSize: 28, fontFamily: FONT, fontWeight: "bold", fill: "#000", align: "center", verticalAlign: "middle" },
    });
    graphic.push({
      type: "group",
      x: L.labX,
      y: cy + 20,
      rotation: Math.PI / 2,
      silent: true,
      children: [
        { type: "text", x: 0, y: -8.1, style: { text: "n", fontSize: 24, fontFamily: FONT, fontWeight: "bold", fontStyle: "italic", fill: "#000", align: "left", verticalAlign: "middle" } },
        { type: "text", x: 15, y: -8, style: { text: "−", fontSize: 16, fontFamily: FONT, fontWeight: "bold", fill: "#000", align: "left", verticalAlign: "middle" } },
        { type: "text", x: 14, y: 9, style: { text: "A k", fontSize: 17, fontFamily: FONT, fontWeight: "bold", fontStyle: "italic", fill: "#000", align: "left", verticalAlign: "middle" } },
      ],
    });
  });

  return {
    animation: false,
    backgroundColor: "#fff",
    textStyle: { fontFamily: FONT },
    grid,
    xAxis,
    yAxis,
    series,
    graphic,
  };
}

export default function App() {
  const ref = useRef<HTMLDivElement>(null);
  useEffect(() => {
    document.body.style.margin = "0";
    if (!ref.current) return;
    const chart = echarts.init(ref.current, null, { renderer: "svg" });
    chart.setOption(buildOption() as any);
    return () => chart.dispose();
  }, []);
  return <div ref={ref} style={{ width: 1556, height: 1453 }} />;
}
